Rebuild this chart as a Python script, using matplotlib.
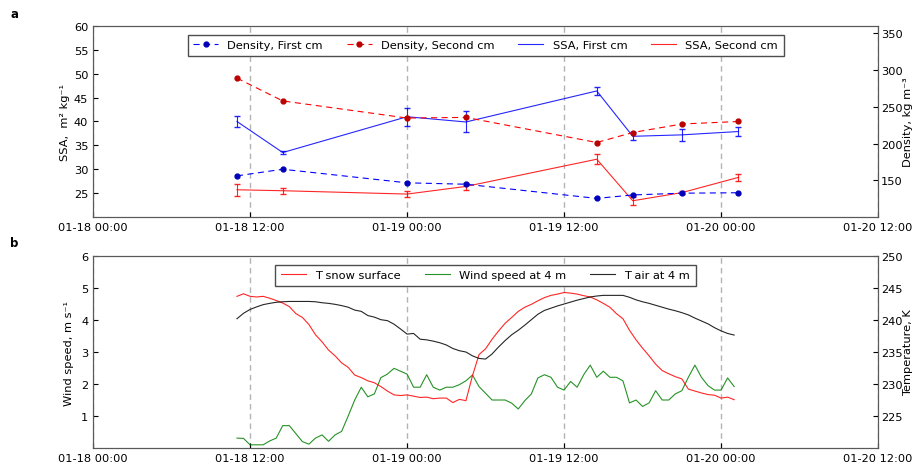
import matplotlib
matplotlib.use('Agg')
import matplotlib.pyplot as plt
import matplotlib.dates as mdates
from matplotlib.lines import Line2D
import numpy as np
import pandas as pd

plt.rcParams['font.family'] = ['DejaVu Sans']
plt.rcParams['font.size'] = 8.2
plt.rcParams['xtick.direction'] = 'in'
plt.rcParams['ytick.direction'] = 'in'
plt.rcParams['axes.edgecolor'] = '0.35'

# snow samples (hours after 2016-01-18 00:00)
sample_hours = [11.0, 14.5, 24.0, 28.5, 38.5, 41.25, 45.0, 49.33]
ssa_first = [40.0, 33.5, 41.0, 39.9, 46.4, 36.9, 37.2, 37.9]
ssa_first_err = [1.2, 0.4, 1.9, 2.2, 0.9, 0.8, 1.2, 1.0]
ssa_second = [25.7, 25.5, 24.8, 26.4, 32.1, 23.4, 25.1, 28.3]
ssa_second_err = [1.2, 0.6, 0.6, 0.8, 1.0, 0.8, 0.3, 0.7]
dens_first = [156, 165, 146.5, 144.6, 125.3, 130, 132.4, 133]
dens_second = [289, 258, 234.7, 235.6, 201.4, 215, 226.6, 230]

# meteo series, every 30 min from 01-18 11:00
wind = [0.31, 0.30, 0.10, 0.10, 0.10, 0.22, 0.31, 0.70, 0.70, 0.45,
        0.20, 0.12, 0.31, 0.41, 0.21, 0.41, 0.52, 1.00, 1.50, 1.90,
        1.60, 1.69, 2.20, 2.31, 2.49, 2.40, 2.31, 1.90, 1.90, 2.29,
        1.90, 1.81, 1.90, 1.90, 1.98, 2.10, 2.28, 1.92, 1.71, 1.50,
        1.50, 1.50, 1.40, 1.22, 1.48, 1.69, 2.19, 2.29, 2.21, 1.90,
        1.81, 2.08, 1.90, 2.29, 2.59, 2.21, 2.40, 2.21, 2.21, 2.10,
        1.41, 1.50, 1.30, 1.41, 1.79, 1.50, 1.50, 1.69, 1.79, 2.21,
        2.59, 2.21, 1.95, 1.81, 1.81, 2.19, 1.92]
t_air = [240.2, 241.05, 241.65, 242.05, 242.4, 242.6, 242.77, 242.85, 242.9, 242.9,
         242.9, 242.9, 242.85, 242.7, 242.6, 242.45, 242.25, 242.0, 241.55, 241.35,
         240.7, 240.45, 240.05, 239.9, 239.35, 238.6, 237.8, 237.9, 237.0, 236.9,
         236.7, 236.45, 236.1, 235.55, 235.2, 235.0, 234.4, 234.0, 233.9, 234.7,
         235.8, 236.8, 237.7, 238.4, 239.2, 240.05, 240.9, 241.5, 241.85, 242.2,
         242.5, 242.8, 243.1, 243.35, 243.6, 243.75, 243.85, 243.85, 243.85, 243.85,
         243.55, 243.15, 242.85, 242.6, 242.3, 242.0, 241.7, 241.45, 241.15, 240.8,
         240.3, 239.85, 239.4, 238.8, 238.3, 237.9, 237.65]
t_snow = [243.7, 244.1, 243.7, 243.6, 243.7, 243.4, 243.05, 242.65, 242.1, 241.0,
          240.4, 239.3, 237.7, 236.6, 235.3, 234.4, 233.3, 232.6, 231.4, 231.0,
          230.5, 230.2, 229.6, 228.9, 228.3, 228.2, 228.3, 228.1, 227.9, 227.95,
          227.7, 227.8, 227.8, 227.1, 227.6, 227.4, 231.3, 234.6, 235.5, 237.0,
          238.3, 239.5, 240.4, 241.35, 242.0, 242.45, 243.0, 243.5, 243.85, 244.05,
          244.3, 244.2, 244.05, 243.8, 243.6, 243.15, 242.6, 242.0, 241.0, 240.2,
          238.4, 236.9, 235.6, 234.4, 233.1, 232.1, 231.6, 231.15, 230.8, 229.2,
          228.9, 228.6, 228.35, 228.25, 227.8, 227.95, 227.55]

t0 = pd.Timestamp('2016-01-18 00:00')
sample_times = [t0 + pd.Timedelta(hours=h) for h in sample_hours]
met_times = pd.date_range('2016-01-18 11:00', periods=len(wind), freq='30min')
xlim = (t0, t0 + pd.Timedelta(hours=60))
xticks = pd.date_range(xlim[0], xlim[1], freq='12h')

fig = plt.figure(figsize=(9.14, 4.64), dpi=100)
ax1 = fig.add_axes([0.1018, 0.5302, 0.8589, 0.4116])
ax2 = fig.add_axes([0.1018, 0.0323, 0.8589, 0.4138])


def style_x(ax):
    ax.set_xlim(xlim)
    ax.set_xticks(xticks)
    ax.xaxis.set_major_formatter(mdates.DateFormatter('%m-%d %H:%M'))
    ax.grid(axis='x', color='0.7', linestyle=(0, (4, 3)), linewidth=1)
    ax.set_axisbelow(True)


dash = (0, (5.5, 4))

# ---- panel a
style_x(ax1)
ax1b = ax1.twinx()
ax1.errorbar(sample_times, ssa_first, yerr=ssa_first_err, color='b', lw=0.8,
             elinewidth=0.8, capsize=2, alpha=0.85)
ax1.errorbar(sample_times, ssa_second, yerr=ssa_second_err, color='r', lw=0.8,
             elinewidth=0.8, capsize=2, alpha=0.85)
l1, = ax1b.plot(sample_times, dens_first, color='b', ls=dash, lw=0.8, marker='o',
                ms=3.5, mec='#0000bb', mfc='#0000bb')
l2, = ax1b.plot(sample_times, dens_second, color='r', ls=dash, lw=0.8, marker='o',
                ms=3.5, mec='#bb0000', mfc='#bb0000')
l3 = Line2D([], [], color='b', lw=0.8, alpha=0.85)
l4 = Line2D([], [], color='r', lw=0.8, alpha=0.85)
ax1.set_ylim(20, 60)
ax1.set_yticks(range(25, 61, 5))
ax1b.set_ylim(100, 360)
ax1b.set_yticks(range(150, 351, 50))
ax1b.tick_params(axis='y', pad=2)
ax1.set_ylabel('SSA,  m² kg⁻¹', labelpad=3)
ax1b.set_ylabel('Density, kg m⁻³', labelpad=0.5)
ax1b.set_xlim(xlim)
leg = ax1b.legend([l1, l2, l3, l4],
                  ['Density, First cm', 'Density, Second cm', 'SSA, First cm', 'SSA, Second cm'],
                  loc='upper center', bbox_to_anchor=(0.5, 0.985), ncol=4, fancybox=False,
                  framealpha=1, edgecolor='0.3', handlelength=2.2, columnspacing=2.1,
                  borderpad=0.5, fontsize=8.2)
leg.get_frame().set_linewidth(1)

# ---- panel b
style_x(ax2)
ax2b = ax2.twinx()
lw, = ax2.plot(met_times, wind, color='g', lw=0.8, alpha=0.85)
ls, = ax2b.plot(met_times, t_snow, color='r', lw=0.8, alpha=0.85)
la, = ax2b.plot(met_times, t_air, color='k', lw=0.8, alpha=0.85)
ax2.set_ylim(0, 6)
ax2.set_yticks(range(1, 7))
ax2b.set_ylim(220, 250)
ax2b.set_yticks(range(225, 251, 5))
ax2b.tick_params(axis='y', pad=2)
ax2.set_ylabel('Wind speed, m s⁻¹', labelpad=5)
ax2b.set_ylabel('Temperature, K', labelpad=0.5)
ax2b.set_xlim(xlim)
leg2 = ax2b.legend([ls, lw, la], ['T snow surface', 'Wind speed at 4 m', 'T air at 4 m'],
                   loc='upper center', bbox_to_anchor=(0.5, 0.985), ncol=3, fancybox=False,
                   framealpha=1, edgecolor='0.3', handlelength=2.2, columnspacing=2.1,
                   borderpad=0.5, fontsize=8.2)
leg2.get_frame().set_linewidth(1)

fig.text(0.011, 0.962, 'a', fontsize=8.5, fontweight='bold')
fig.text(0.011, 0.468, 'b', fontsize=8.5, fontweight='bold')

fig.savefig('out.png', dpi=100)
